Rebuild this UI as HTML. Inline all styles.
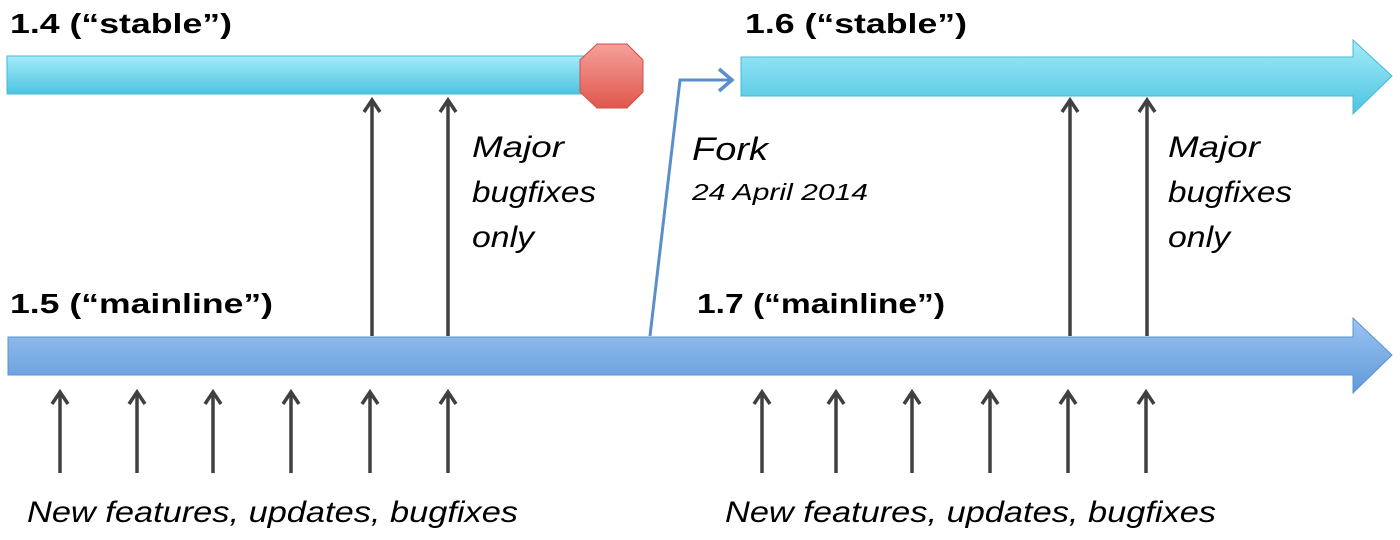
<!DOCTYPE html>
<html><head><meta charset="utf-8"><style>html,body{margin:0;padding:0;background:#fff;}svg{display:block}</style></head>
<body>
<svg width="1400" height="540" xmlns="http://www.w3.org/2000/svg" font-family="Liberation Sans, sans-serif">
<defs>
<linearGradient id="cy" x1="0" y1="0" x2="0" y2="1"><stop offset="0" stop-color="#a3ecfa"/><stop offset="1" stop-color="#4cc3e0"/></linearGradient>
<linearGradient id="bl" x1="0" y1="0" x2="0" y2="1"><stop offset="0" stop-color="#9cc3f2"/><stop offset="1" stop-color="#5f9ad9"/></linearGradient>
<linearGradient id="rd" x1="0" y1="0" x2="0" y2="1"><stop offset="0" stop-color="#f5a09a"/><stop offset="1" stop-color="#e0574c"/></linearGradient>
</defs>
<rect x="7" y="56" width="580" height="38" fill="url(#cy)" stroke="#48b8d4" stroke-width="1"/>
<polygon points="597,44 627,44 643,60 643,92 627,108 597,108 580,92 580,60" fill="url(#rd)" stroke="#d05048" stroke-width="1"/>
<polygon points="741,57 1353,57 1353,40 1392,76 1353,114 1353,96 741,96" fill="url(#cy)" stroke="#48b8d4" stroke-width="1"/>
<polygon points="8,337 1353,337 1353,318 1392,355 1353,393 1353,375 8,375" fill="url(#bl)" stroke="#5a93d0" stroke-width="1"/>
<polyline points="650,336 680,80 730,80" fill="none" stroke="#5b8fcc" stroke-width="3"/>
<path d="M719,69 L732,80 L719,91" fill="none" stroke="#5b8fcc" stroke-width="3.5"/>
<g stroke="#404040" stroke-width="3.5" fill="none" stroke-linejoin="miter">
<path d="M372,336V100M448,336V100M1070,336V100M1147,336V100"/>
<path d="M364,112L372,100L380,112M440,112L448,100L456,112M1062,112L1070,100L1078,112M1139,112L1147,100L1155,112"/>
<path d="M60,473V392M137,473V392M213,473V392M291,473V392M370,473V392M448,473V392M762,473V392M836,473V392M912,473V392M990,473V392M1068,473V392M1146,473V392"/>
<path d="M52,404L60,392L68,404M129,404L137,392L145,404M205,404L213,392L221,404M283,404L291,392L299,404M362,404L370,392L378,404M440,404L448,392L456,404M754,404L762,392L770,404M828,404L836,392L844,404M904,404L912,392L920,404M982,404L990,392L998,404M1060,404L1068,392L1076,404M1138,404L1146,392L1154,404"/>
</g>
<g fill="#000" font-weight="bold" font-size="28">
<text x="10" y="33" textLength="222" lengthAdjust="spacingAndGlyphs">1.4 (“stable”)</text>
<text x="745" y="33" textLength="222" lengthAdjust="spacingAndGlyphs">1.6 (“stable”)</text>
<text x="10" y="313" textLength="263" lengthAdjust="spacingAndGlyphs">1.5 (“mainline”)</text>
<text x="697" y="313" textLength="248" lengthAdjust="spacingAndGlyphs">1.7 (“mainline”)</text>
</g>
<g fill="#000" font-style="italic" font-size="30">
<text x="472" y="157" textLength="92" lengthAdjust="spacingAndGlyphs">Major</text>
<text x="472" y="202" textLength="124" lengthAdjust="spacingAndGlyphs">bugfixes</text>
<text x="472" y="247" textLength="62" lengthAdjust="spacingAndGlyphs">only</text>
<text x="1168" y="157" textLength="92" lengthAdjust="spacingAndGlyphs">Major</text>
<text x="1168" y="202" textLength="124" lengthAdjust="spacingAndGlyphs">bugfixes</text>
<text x="1168" y="247" textLength="62" lengthAdjust="spacingAndGlyphs">only</text>
<text x="692" y="160" font-size="32" textLength="76" lengthAdjust="spacingAndGlyphs">Fork</text>
<text x="692" y="200" font-size="23" textLength="176" lengthAdjust="spacingAndGlyphs">24 April 2014</text>
<text x="27" y="522" textLength="491" lengthAdjust="spacingAndGlyphs">New features, updates, bugfixes</text>
<text x="725" y="522" textLength="491" lengthAdjust="spacingAndGlyphs">New features, updates, bugfixes</text>
</g>
</svg>
</body></html>
